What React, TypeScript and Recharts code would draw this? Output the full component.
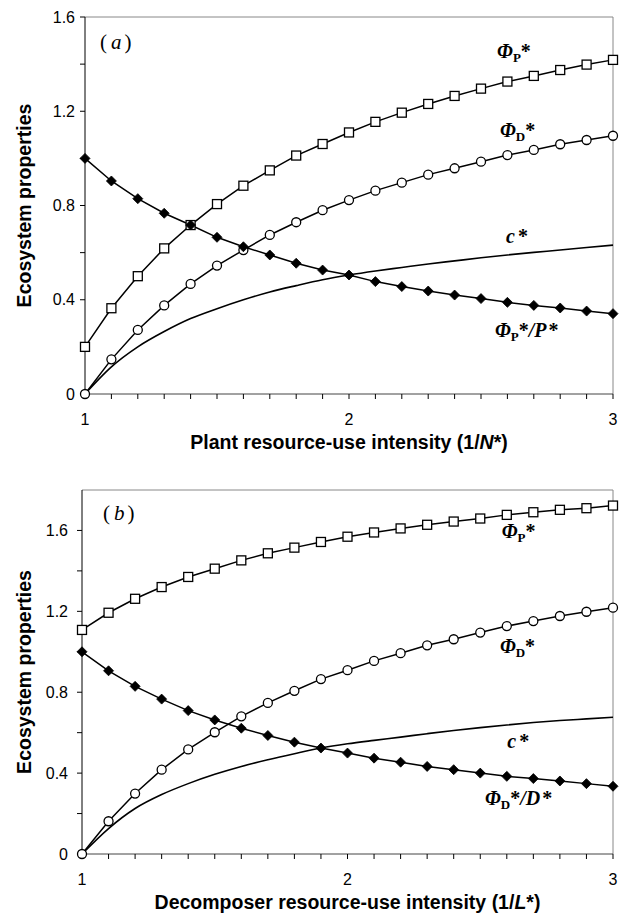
import React from 'react'
import { LineChart, Line, XAxis, YAxis, ReferenceLine, ReferenceDot, Label } from 'recharts'

// resource-use intensity, 1 .. 3 in steps of 0.1
const xs = [1, 1.1, 1.2, 1.3, 1.4, 1.5, 1.6, 1.7, 1.8, 1.9, 2, 2.1, 2.2, 2.3, 2.4, 2.5, 2.6, 2.7, 2.8, 2.9, 3]
const xTicks = xs
const yTicks = [0, 0.2, 0.4, 0.6, 0.8, 1, 1.2, 1.4, 1.6]

// (a) plant resource-use intensity
const phiPA = [0.2, 0.364, 0.5, 0.618, 0.717, 0.806, 0.884, 0.949, 1.012, 1.061, 1.11, 1.155, 1.194, 1.231, 1.265, 1.296, 1.326, 1.35, 1.375, 1.398, 1.418]
const phiDA = [0, 0.147, 0.272, 0.376, 0.467, 0.545, 0.611, 0.675, 0.729, 0.78, 0.823, 0.863, 0.897, 0.931, 0.958, 0.986, 1.014, 1.036, 1.06, 1.078, 1.096]
const ratioA = [1, 0.904, 0.829, 0.767, 0.717, 0.665, 0.625, 0.59, 0.555, 0.526, 0.505, 0.477, 0.456, 0.437, 0.42, 0.405, 0.389, 0.376, 0.365, 0.352, 0.341]
const cA = [0, 0.115, 0.2, 0.265, 0.32, 0.362, 0.4, 0.433, 0.46, 0.485, 0.505, 0.522, 0.537, 0.552, 0.565, 0.578, 0.59, 0.601, 0.611, 0.622, 0.632]

// (b) decomposer resource-use intensity
const phiPB = [1.108, 1.193, 1.262, 1.32, 1.37, 1.411, 1.452, 1.487, 1.515, 1.543, 1.569, 1.59, 1.61, 1.628, 1.644, 1.659, 1.677, 1.69, 1.702, 1.71, 1.723]
const phiDB = [0, 0.162, 0.299, 0.417, 0.517, 0.602, 0.681, 0.747, 0.807, 0.865, 0.909, 0.955, 0.993, 1.032, 1.062, 1.095, 1.127, 1.152, 1.177, 1.198, 1.218]
const ratioB = [1, 0.906, 0.829, 0.766, 0.709, 0.663, 0.622, 0.586, 0.553, 0.524, 0.499, 0.474, 0.454, 0.433, 0.417, 0.4, 0.384, 0.373, 0.361, 0.348, 0.335]
const cB = [0, 0.126, 0.225, 0.294, 0.348, 0.394, 0.433, 0.466, 0.496, 0.524, 0.545, 0.562, 0.578, 0.595, 0.611, 0.625, 0.638, 0.65, 0.66, 0.668, 0.676]

const build = (p: number[], d: number[], r: number[], c: number[]) =>
  xs.map((x, i) => ({ x, phiP: p[i], phiD: d[i], ratio: r[i], c: c[i] }))

const dataA = build(phiPA, phiDA, ratioA, cA)
const dataB = build(phiPB, phiDB, ratioB, cB)

const SANS = '"Liberation Sans", Arial, Helvetica, sans-serif'
const SERIF = '"Liberation Serif", "Times New Roman", serif'

const SquareDot = (props: any) => {
  const { cx, cy, index } = props
  if (cx == null || cy == null) return <g key={index} />
  return <rect key={index} x={cx - 4.5} y={cy - 4.5} width={9} height={9} fill="#fff" stroke="#000" strokeWidth={1.3} />
}

const CircleDot = (props: any) => {
  const { cx, cy, index } = props
  if (cx == null || cy == null) return <g key={index} />
  return <circle key={index} cx={cx} cy={cy} r={4.5} fill="#fff" stroke="#000" strokeWidth={1.3} />
}

const DiamondDot = (props: any) => {
  const { cx, cy, index } = props
  if (cx == null || cy == null) return <g key={index} />
  const s = 5
  return <polygon key={index} points={`${cx},${cy - s} ${cx + s},${cy} ${cx},${cy + s} ${cx - s},${cy}`} fill="#000" stroke="#000" strokeWidth={0.8} />
}

// text drawn at a data position (start / baseline)
const Annot = ({ viewBox, kind }: any) => {
  const x = viewBox.x + viewBox.width / 2
  const y = viewBox.y + viewBox.height / 2
  const base = { fontFamily: SERIF, fontSize: 20, fontWeight: 700, fill: '#000' }
  if (kind === 'a' || kind === 'b') {
    return (
      <text x={x} y={y} fontFamily={SERIF} fontSize={21} fill="#000">
        (<tspan dx={4} fontStyle="italic">{kind}</tspan><tspan dx={3}>)</tspan>
      </text>
    )
  }
  if (kind === 'c') {
    return (
      <text x={x} y={y} {...base}>
        <tspan fontStyle="italic">c</tspan><tspan dx={3}>*</tspan>
      </text>
    )
  }
  const sub = kind === 'phiP' || kind === 'phiPP' ? 'P' : 'D'
  return (
    <text x={x} y={y} {...base}>
      <tspan fontStyle="italic">Φ</tspan>
      <tspan fontSize={13} dy={4}>{sub}</tspan>
      <tspan dy={-4}>*</tspan>
      {(kind === 'phiPP' || kind === 'phiDD') && (
        <>
          <tspan fontStyle="italic">/{sub}</tspan>
          <tspan dx={2}>*</tspan>
        </>
      )}
    </text>
  )
}

const XTitle = ({ viewBox, prefix, sym }: any) => (
  <text
    x={viewBox.x + viewBox.width / 2}
    y={viewBox.y + 55}
    textAnchor="middle"
    fontFamily={SANS}
    fontSize={19.5}
    fontWeight={700}
    fill="#000"
  >
    {prefix}
    <tspan fontStyle="italic">{sym}</tspan>
    *)
  </text>
)

const YTitle = ({ viewBox }: any) => {
  const cy = viewBox.y + viewBox.height / 2
  return (
    <text
      x={24}
      y={cy}
      transform={`rotate(-90, 24, ${cy})`}
      textAnchor="middle"
      dominantBaseline="central"
      fontFamily={SANS}
      fontSize={19.5}
      fontWeight={700}
      fill="#000"
    >
      Ecosystem properties
    </text>
  )
}

const fmtX = (v: number) => (Math.abs(v - Math.round(v)) < 1e-6 ? String(Math.round(v)) : '')
const fmtY = (v: number) => (Math.round(v * 10) % 4 === 0 ? String(Math.round(v * 10) / 10) : '')

function Panel({ data, yMax, height, marginTop, marginBottom, axisWidth, tickGap, prefix, sym, labels }: any) {
  return (
    <LineChart
      width={631}
      height={height}
      data={data}
      margin={{ top: marginTop, right: 18, bottom: marginBottom, left: 0 }}
    >
      <XAxis
        type="number"
        dataKey="x"
        domain={[1, 3]}
        ticks={xTicks}
        interval={0}
        tickFormatter={fmtX}
        tickSize={5}
        tickMargin={15}
        height={50}
        stroke="#444"
        tick={{ fill: '#000', fontSize: 16, fontFamily: SANS }}
        tickLine={{ stroke: '#000' }}
      >
        <Label content={<XTitle prefix={prefix} sym={sym} />} />
      </XAxis>
      <YAxis
        type="number"
        domain={[0, yMax]}
        ticks={yTicks}
        interval={0}
        tickFormatter={fmtY}
        width={axisWidth}
        tickSize={5}
        tickMargin={tickGap}
        stroke="#000"
        tick={{ fill: '#000', fontSize: 16, fontFamily: SANS }}
      >
        <Label content={<YTitle />} />
      </YAxis>
      <ReferenceLine y={yMax} stroke="#888" strokeWidth={1} />
      <ReferenceLine x={3} stroke="#888" strokeWidth={1} />
      <Line type="monotone" dataKey="c" stroke="#000" strokeWidth={1.6} dot={false} isAnimationActive={false} />
      <Line type="linear" dataKey="phiP" stroke="#000" strokeWidth={1.5} dot={SquareDot} isAnimationActive={false} />
      <Line type="linear" dataKey="phiD" stroke="#000" strokeWidth={1.5} dot={CircleDot} isAnimationActive={false} />
      <Line type="linear" dataKey="ratio" stroke="#000" strokeWidth={1.5} dot={DiamondDot} isAnimationActive={false} />
      {labels.map((l: any) => (
        <ReferenceDot
          key={l.kind}
          x={l.x}
          y={l.y}
          r={0}
          fill="none"
          stroke="none"
          label={<Annot kind={l.kind} />}
        />
      ))}
    </LineChart>
  )
}

const labelsA = [
  { kind: 'a', x: 1.057, y: 1.464 },
  { kind: 'phiP', x: 2.561, y: 1.426 },
  { kind: 'phiD', x: 2.572, y: 1.091 },
  { kind: 'c', x: 2.595, y: 0.641 },
  { kind: 'phiPP', x: 2.553, y: 0.242 },
]

const labelsB = [
  { kind: 'b', x: 1.079, y: 1.65 },
  { kind: 'phiP', x: 2.581, y: 1.561 },
  { kind: 'phiD', x: 2.574, y: 0.995 },
  { kind: 'c', x: 2.602, y: 0.522 },
  { kind: 'phiDD', x: 2.518, y: 0.241 },
]

export default function App() {
  return (
    <div style={{ position: 'absolute', left: 0, top: 0, width: 631, height: 917, background: '#fff' }}>
      <div style={{ position: 'absolute', left: 0, top: 0 }}>
        <Panel
          data={dataA}
          yMax={1.6}
          height={460}
          marginTop={17}
          marginBottom={16}
          axisWidth={85}
          tickGap={5}
          prefix="Plant resource-use intensity (1/"
          sym="N"
          labels={labelsA}
        />
      </div>
      <div style={{ position: 'absolute', left: 0, top: 465 }}>
        <Panel
          data={dataB}
          yMax={1.8}
          height={452}
          marginTop={25}
          marginBottom={13}
          axisWidth={82}
          tickGap={9}
          prefix="Decomposer resource-use intensity (1/"
          sym="L"
          labels={labelsB}
        />
      </div>
    </div>
  )
}
